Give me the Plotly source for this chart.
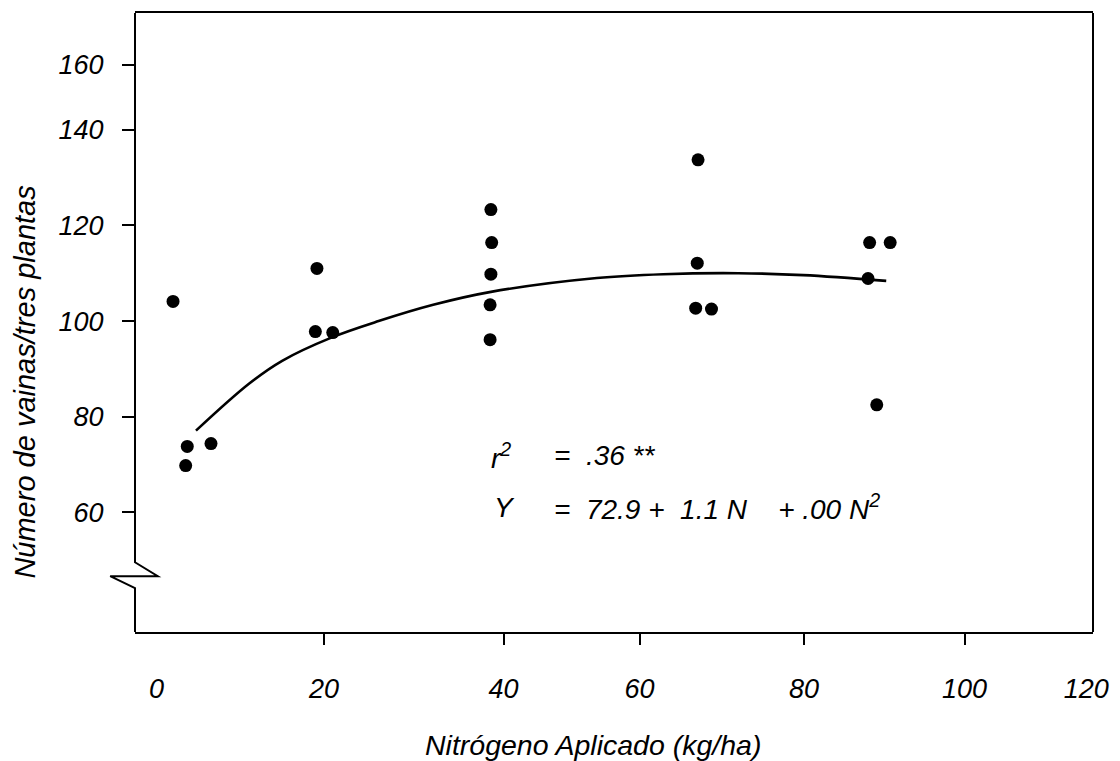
import plotly.graph_objects as go

# ---- data ----
n_applied = [0.1, 18.3, 18.1, 20.3, 1.9, 1.7, 4.9,
             40.3, 40.4, 40.3, 40.2, 40.2,
             66.5, 66.4, 66.2, 68.2,
             88.2, 90.8, 88.0, 89.1]
pods = [104.1, 111.0, 97.8, 97.6, 73.8, 69.8, 74.4,
        123.3, 116.4, 109.8, 103.4, 96.1,
        133.7, 112.1, 102.7, 102.5,
        116.4, 116.4, 108.9, 82.5]

curve_n = [3.0, 9.7, 13.9, 20.2, 26.1, 33.0, 40.3, 53.7, 62.1, 71.6, 79.8, 90.3]
curve_y = [77.1, 86.9, 91.7, 96.6, 100.0, 103.4, 106.1, 109.0, 109.8, 110.0, 109.6, 108.4]

x_tick_pos = [-2.0, 19.2, 41.9, 59.1, 79.9, 100.2, 115.6]
x_tick_text = ["0", "20", "40", "60", "80", "100", "120"]
x_mark_pos = [19.2, 41.9, 59.1, 79.9, 100.2]
y_tick_pos = [60, 80, 100, 120, 140, 153.6]
y_tick_text = ["60", "80", "100", "120", "140", "160"]

X_RANGE = [-4.71, 116.45]
Y_RANGE = [35.0, 164.4]

FONT = "Liberation Sans, Arial, sans-serif"

fig = go.Figure()
fig.add_trace(go.Scatter(x=curve_n, y=curve_y, mode="lines",
                         line=dict(color="black", width=2.6, shape="spline", smoothing=1.0),
                         showlegend=False, hoverinfo="skip"))
fig.add_trace(go.Scatter(x=n_applied, y=pods, mode="markers",
                         marker=dict(color="black", size=13, line=dict(width=0)),
                         showlegend=False))
# invisible trace to anchor tick-mark overlay axis
fig.add_trace(go.Scatter(x=[None], y=[None], xaxis="x2", showlegend=False))

fig.update_layout(
    width=1120, height=761,
    margin=dict(l=135, r=20, t=11, b=129),
    paper_bgcolor="white", plot_bgcolor="white",
    font=dict(family=FONT, color="black"),
    xaxis=dict(range=X_RANGE, showgrid=False, zeroline=False,
               showline=True, mirror=True, linecolor="black", linewidth=2,
               tickmode="array", tickvals=x_tick_pos, ticktext=x_tick_text,
               ticks="", ticklabelstandoff=32,
               tickfont=dict(family=FONT, size=27, style="italic", color="black")),
    xaxis2=dict(range=X_RANGE, overlaying="x", anchor="y", side="bottom",
                showgrid=False, zeroline=False, showline=False,
                tickmode="array", tickvals=x_mark_pos, showticklabels=False,
                ticks="outside", ticklen=12, tickwidth=2, tickcolor="black"),
    yaxis=dict(range=Y_RANGE, showgrid=False, zeroline=False, showline=False,
               tickmode="array", tickvals=y_tick_pos, ticktext=y_tick_text,
               ticks="outside", ticklen=12, tickwidth=2, tickcolor="black",
               ticklabelstandoff=13,
               tickfont=dict(family=FONT, size=27, style="italic", color="black")),
)

# frame: right line and broken left axis
fig.add_shape(type="line", xref="paper", yref="paper", x0=1, x1=1, y0=0, y1=1,
              line=dict(color="black", width=2))
fig.add_shape(type="path", xref="paper", yref="paper",
              path="M 0,1 L 0,0.1127 L 0.0238,0.0902 L -0.0259,0.0902 L 0,0.0709 L 0,0",
              line=dict(color="black", width=2))

ann_font = dict(family=FONT, size=28, style="italic", color="black")
texts = [
    ("r<sup>2</sup>", 492, 455),
    ("=&nbsp;&nbsp;.36 **", 555, 455),
    ("Y", 495, 507),
    ("=&nbsp;&nbsp;72.9 +&nbsp;&nbsp;1.1 N&nbsp;&nbsp;&nbsp;&nbsp;+ .00 N<sup>2</sup>", 555, 507),
]
for t, px, py in texts:
    fig.add_annotation(text=t, xref="paper", yref="paper",
                       x=(px - 135) / 965, y=(632 - py) / 621,
                       xanchor="left", yanchor="middle", showarrow=False, font=ann_font)

fig.add_annotation(text="Número de vainas/tres plantas", xref="paper", yref="paper",
                   x=(24 - 135) / 965, y=(632 - 381) / 621, textangle=-90,
                   xanchor="center", yanchor="middle", showarrow=False,
                   font=dict(family=FONT, size=29, style="italic", color="black"))
fig.add_annotation(text="Nitrógeno Aplicado (kg/ha)", xref="paper", yref="paper",
                   x=(596 - 135) / 965, y=(632 - 745) / 621,
                   xanchor="center", yanchor="middle", showarrow=False,
                   font=dict(family=FONT, size=28.5, style="italic", color="black"))

fig.write_html("out.html")
